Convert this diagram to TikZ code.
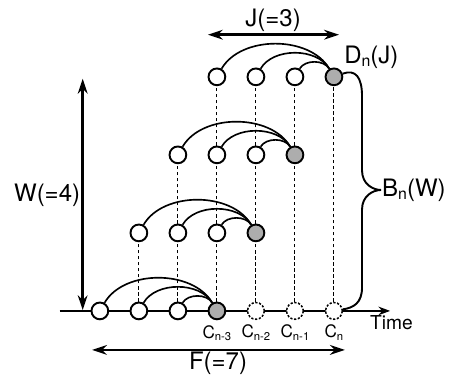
\documentclass[tikz,border=0pt]{standalone}
\usepackage{fontspec}
\setmainfont{TeX Gyre Heros}
\usepackage{tikz}
\usetikzlibrary{positioning,arrows.meta}
\newcommand{\lowidx}[1]{\raisebox{-0.25ex}{\scalebox{0.66}{#1}}}

\begin{document}
\begin{tikzpicture}[font=\fontsize{17.5}{20}\selectfont,
  slot/.style={circle,draw,line width=1.4pt,fill=white,minimum size=0.43cm,inner sep=0pt},
  cur/.style={slot,fill=black!32},
  future/.style={slot,line width=1.1pt,dash pattern=on 1.6pt off 1.2pt},
  guide/.style={line width=0.75pt,dash pattern=on 2.4pt off 2pt},
  link/.style={line width=1.2pt,out=60,in=120,looseness=0.92},
  span/.style={line width=1.9pt,{Stealth[length=3.8mm,width=2.5mm]}-{Stealth[length=3.8mm,width=2.5mm]}},
  clabel/.style={font=\fontsize{12.5}{13}\selectfont,inner sep=0pt}]
\useasboundingbox (-2.56,-1.80) rectangle (9.18,7.97);
% time axis
\coordinate (t0) at (-1.03,0);
\coordinate (t1) at (7.44,0);
\draw[line width=1.1pt,-{Stealth[length=3mm,width=2.2mm]}] (t0)--(t1);
\node[font=\fontsize{14}{16}\selectfont,anchor=west,inner sep=0pt] (time) at (6.92,-0.31) {Time};
% slots, bottom row
\node[slot] (a0) at (0,0) {};
\node[slot] (a1) at (1,0) {};
\node[slot] (a2) at (2,0) {};
\node[cur] (a3) at (3,0) {};
\node[future] (a4) at (4,0) {};
\node[future] (a5) at (5,0) {};
\node[future] (a6) at (6,0) {};
% row 2
\node[slot] (b1) at (1,2) {};
\node[slot] (b2) at (2,2) {};
\node[slot] (b3) at (3,2) {};
\node[cur] (b4) at (4,2) {};
% row 3
\node[slot] (c2) at (2,4) {};
\node[slot] (c3) at (3,4) {};
\node[slot] (c4) at (4,4) {};
\node[cur] (c5) at (5,4) {};
% top row
\node[slot] (d3) at (3,6) {};
\node[slot] (d4) at (4,6) {};
\node[slot] (d5) at (5,6) {};
\node[cur] (d6) at (6,6) {};
% vertical guides
\draw[guide] (a1)--(b1);
\draw[guide] (a2)--(b2);
\draw[guide] (b2)--(c2);
\draw[guide] (a3)--(b3);
\draw[guide] (b3)--(c3);
\draw[guide] (c3)--(d3);
\draw[guide] (a4)--(b4);
\draw[guide] (b4)--(c4);
\draw[guide] (c4)--(d4);
\draw[guide] (a5)--(c5);
\draw[guide] (c5)--(d5);
\draw[guide] (a6)--(d6);
% arcs
\draw[link] (a0) to (a3);
\draw[link] (a1) to (a3);
\draw[link] (a2) to (a3);
\draw[link] (b1) to (b4);
\draw[link] (b2) to (b4);
\draw[link] (b3) to (b4);
\draw[link] (c2) to (c5);
\draw[link] (c3) to (c5);
\draw[link] (c4) to (c5);
\draw[link] (d3) to (d6);
\draw[link] (d4) to (d6);
\draw[link] (d5) to (d6);
% slot labels
\node[clabel,below=0.12cm of a3] (l3) {C\lowidx{n-3}};
\node[clabel,below=0.12cm of a4] (l2) {C\lowidx{n-2}};
\node[clabel,below=0.12cm of a5] (l1) {C\lowidx{n-1}};
\node[clabel,below=0.12cm of a6] (l0) {C\lowidx{n}};
% brace B_n(W)
\draw[line width=1.4pt] (d6.20) .. controls (6.55,6.2) and (6.72,6.0) .. (6.72,5.5) -- (6.72,3.6)
  .. controls (6.72,3.25) and (7.0,3.1) .. (7.21,3.1) .. controls (7.0,3.1) and (6.72,2.95) .. (6.72,2.6)
  -- (6.72,0.6) .. controls (6.72,0.2) and (6.5,0.08) .. (a6.10);
\node[anchor=west,inner sep=0pt] (bw) at (7.23,3.1) {B\lowidx{n}(W)};
\node[anchor=west,inner sep=0pt] (dj) at (6.26,6.51) {D\lowidx{n}(J)};
% J span
\coordinate (jl) at (2.77,7.08);
\coordinate (jr) at (6.13,7.08);
\draw[span] (jl)--(jr);
\node (jlab) at (4.44,7.46) {J(=3)};
% W span
\coordinate (wt) at (-0.44,5.95);
\coordinate (wb) at (-0.44,0.02);
\draw[span] (wt)--(wb);
\node[anchor=east,inner sep=0pt] (wlab) at (-0.5,2.97) {W(=4)};
% F span
\coordinate (fl) at (-0.2,-1.0);
\coordinate (fr) at (6.28,-1.0);
\draw[span] (fl)--(fr);
\node (flab) at (3.03,-1.33) {F(=7)};
\end{tikzpicture}
\end{document}
